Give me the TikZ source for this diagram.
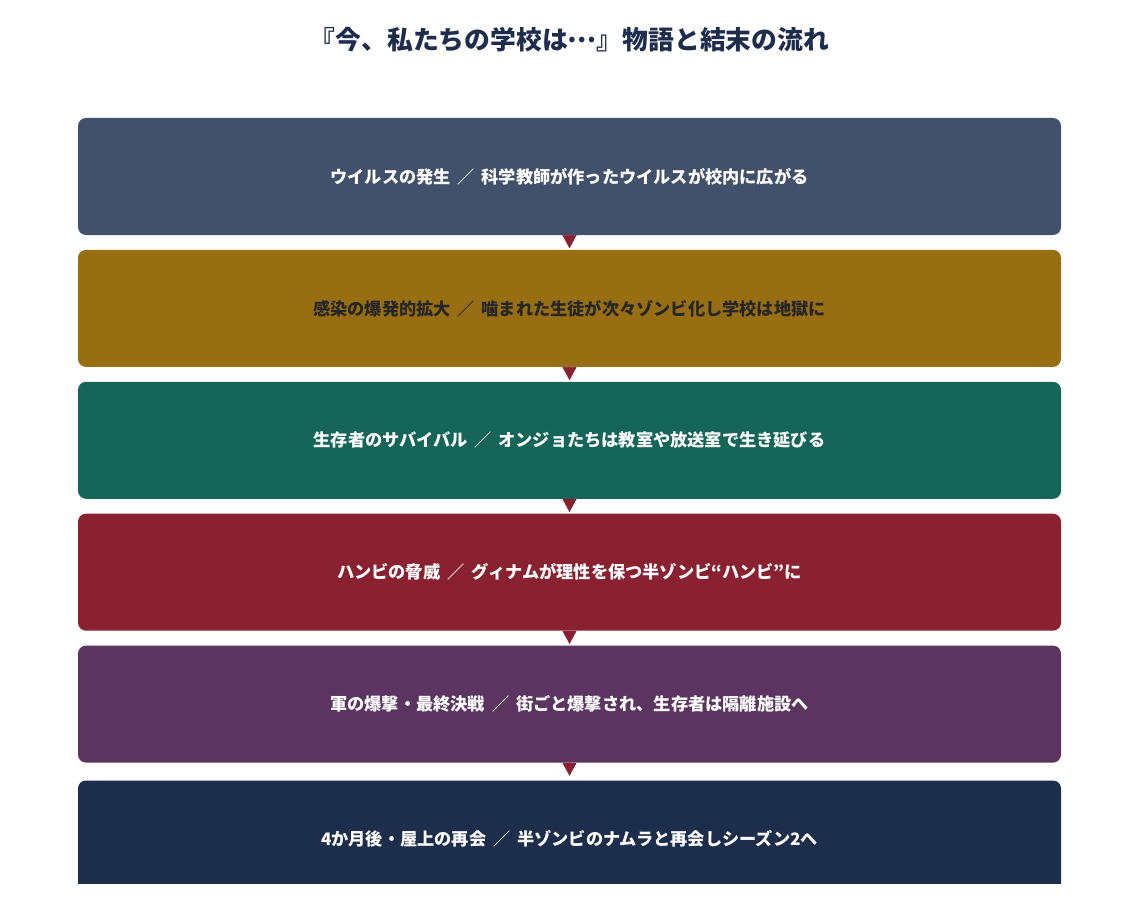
\documentclass[tikz,border=0pt]{standalone}
\usepackage{fontspec}
\setmainfont{Noto Sans CJK JP}
\definecolor{titlenavy}{RGB}{30, 45, 78}
\definecolor{stepslate}{RGB}{65, 81, 107}
\definecolor{stepgold}{RGB}{151, 110, 18}
\definecolor{stepgreen}{RGB}{21, 101, 88}
\definecolor{stepred}{RGB}{138, 33, 49}
\definecolor{stepplum}{RGB}{91, 53, 96}
\definecolor{stepnavy}{RGB}{28, 46, 76}
\definecolor{arrowred}{RGB}{138, 31, 48}
\definecolor{darktext}{RGB}{38, 38, 38}
\usetikzlibrary{arrows.meta, positioning}
\newcommand{\sep}{\hspace{0.4em}／\hspace{0.4em}}

\begin{document}
\begin{tikzpicture}[
  stepbox/.style={rectangle, rounded corners=8pt, minimum width=983pt, minimum height=117pt,
    inner sep=0pt, text=white, font=\fontsize{17.2pt}{20pt}\selectfont\bfseries},
  flow/.style={draw=arrowred, -{Triangle[length=13pt, width=14pt]}, arrowred}
]
  \useasboundingbox (0pt,0pt) rectangle (1139pt,-896pt);

  \node[text=titlenavy, font=\fontsize{25.8pt}{28pt}\selectfont\bfseries] (title) at (569.5pt,-40pt)
    {『今、私たちの学校は\raisebox{0.3em}{…}』物語と結末の流れ};

  \begin{scope}
    \clip (0pt,0pt) rectangle (1139pt,-883pt);
    \node[stepbox, fill=stepslate] (outbreak) at (569.5pt,-176.5pt)
      {ウイルスの発生\sep 科学教師が作ったウイルスが校内に広がる};
    \node[stepbox, fill=stepgold, text=darktext, below=14.5pt of outbreak] (spread)
      {感染の爆発的拡大\sep 噛まれた生徒が次々ゾンビ化し学校は地獄に};
    \node[stepbox, fill=stepgreen, below=14.5pt of spread] (survival)
      {生存者のサバイバル\sep オンジョたちは教室や放送室で生き延びる};
    \node[stepbox, fill=stepred, below=14.5pt of survival] (hambie)
      {ハンビの脅威\sep グィナムが理性を保つ半ゾンビ“ハンビ”に};
    \node[stepbox, fill=stepplum, below=14.5pt of hambie] (bombing)
      {軍の爆撃・最終決戦\sep 街ごと爆撃され、生存者は隔離施設へ};
    \node[stepbox, fill=stepnavy, below=17.5pt of bombing] (reunion)
      {4か月後・屋上の再会\sep 半ゾンビのナムラと再会しシーズン2へ};

    % arrows between the stages
    \draw[flow, shorten >=1.5pt] (outbreak.south) -- (spread.north);
    \draw[flow, shorten >=1.5pt] (spread.south) -- (survival.north);
    \draw[flow, shorten >=1.5pt] (survival.south) -- (hambie.north);
    \draw[flow, shorten >=1.5pt] (hambie.south) -- (bombing.north);
    \draw[flow, shorten >=4.5pt] (bombing.south) -- (reunion.north);
  \end{scope}
\end{tikzpicture}
\end{document}
